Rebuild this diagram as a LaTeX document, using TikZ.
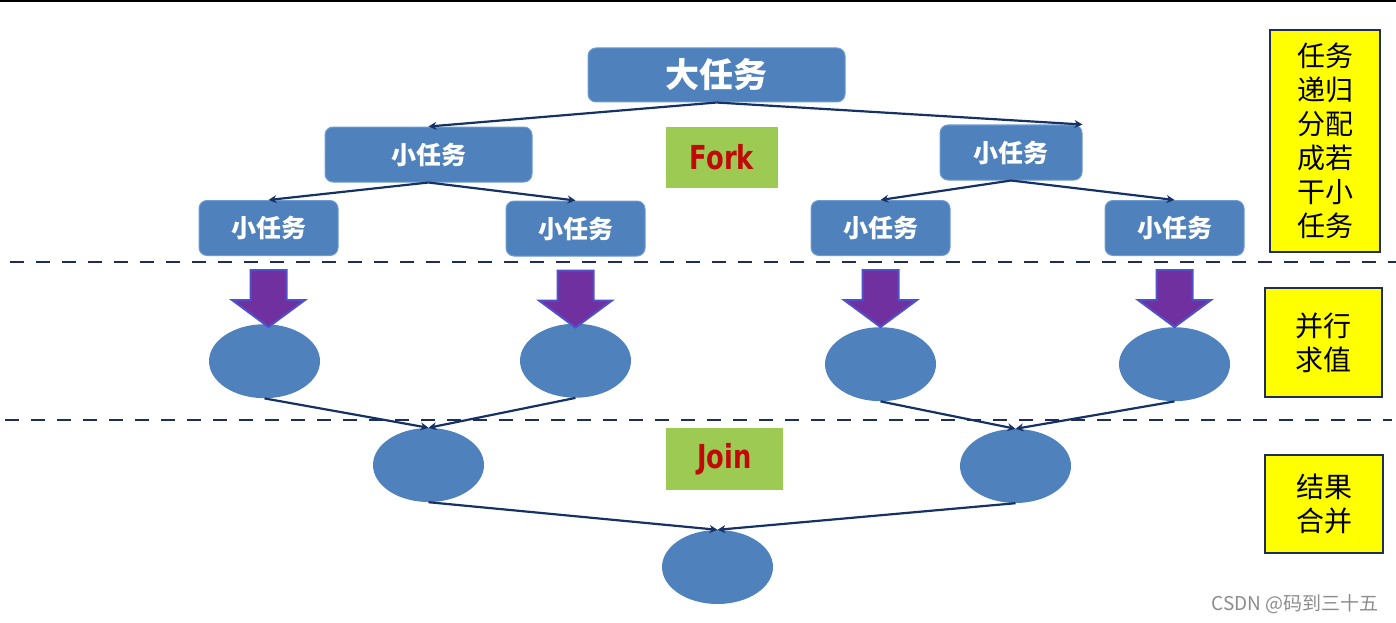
\documentclass[tikz,border=0pt]{standalone}
\usepackage{fontspec}
\newfontfamily\cjk{Noto Sans CJK SC}
\newfontfamily\tagfont{DejaVu Sans}[FakeStretch=0.78]
\usepackage{tikz}
\usetikzlibrary{arrows.meta,shapes.geometric,positioning}
\usepackage{xcolor}
\definecolor{tkblue}{RGB}{79,129,189}
\definecolor{tkedge}{RGB}{110,155,210}
\definecolor{tkline}{RGB}{22,50,100}
\definecolor{tkpurple}{RGB}{112,48,160}
\definecolor{tkviolet}{RGB}{80,80,200}
\definecolor{tkyellow}{RGB}{255,255,0}
\definecolor{tknavy}{RGB}{30,45,90}
\definecolor{tkgreen}{RGB}{157,202,82}
\definecolor{tkred}{RGB}{192,10,10}
\tikzstyle{task} = [rectangle, rounded corners=8pt, minimum width=139pt, minimum height=55pt, text centered, draw=tkedge, fill=tkblue, line width=1pt, text=white, font=\cjk\bfseries\fontsize{25}{25}\selectfont]
\tikzstyle{result} = [ellipse, minimum width=111pt, minimum height=74pt, inner sep=0pt, fill=tkblue]
\tikzstyle{link} = [line width=2.2pt, -{Stealth[length=8pt,width=8pt]}, color=tkline]
\tikzstyle{phase} = [rectangle, draw=tknavy, fill=tkyellow, line width=2pt, align=center, text=black, font=\cjk\fontsize{28}{34}\selectfont]
\tikzstyle{tag} = [rectangle, fill=tkgreen, text=tkred, font=\tagfont\bfseries\fontsize{33}{33}\selectfont]
\tikzstyle{divider} = [line width=2pt, dash pattern=on 14pt off 12pt, color=tknavy]
\tikzstyle{droparrow} = [fill=tkpurple, draw=tkviolet, line width=2pt, line join=miter]
\tikzset{drop/.pic={
  \draw[droparrow] (-18,0) -- (18,0) -- (18,30) -- (36.5,30) -- (0,57) -- (-36.5,30) -- (-18,30) -- cycle;
}}

\begin{document}
\begin{tikzpicture}[x=1pt, y=-1pt]
\useasboundingbox (0,0) rectangle (1396,623);
\draw[line width=2pt] (0,1) -- (1396,1);

% Fork: split the task
\node[task, minimum width=257pt, minimum height=54pt, font=\cjk\bfseries\fontsize{34}{34}\selectfont] (big) at (716.5,75) {大任务};
\node[task, minimum width=207pt] (l1) at (428.5,154.5) {小任务};
\node[task, minimum width=142pt] (r1) at (1011,152.5) {小任务};
\node[task] (ll) at (268.5,228) {小任务};
\node[task] (lr) at (575.5,228.5) {小任务};
\node[task] (rl) at (880.5,228) {小任务};
\node[task] (rr) at (1174.5,228) {小任务};
\node[tag, minimum width=112pt, minimum height=61pt] (fork) at (722,157.5) {Fork};

\draw[link] (big.south) -- (l1.north);
\draw[link] (big.south) -- (r1.north east);
\draw[link] (l1.south) -- (ll.north);
\draw[link] (l1.south) -- (lr.north);
\draw[link] (r1.south) -- (rl.north);
\draw[link] (r1.south) -- (rr.north);

% Phase borders
\draw[divider] (10,262) -- (1396,262);
\draw[divider] (5,420) -- (1392,420);

% Parallel evaluation
\node[result, below=68pt of ll, xshift=-4pt] (e1) {};
\node[result, below=67pt of lr] (e2) {};
\node[result, below=71pt of rl] (e3) {};
\node[result, below=71pt of rr] (e4) {};
\foreach \t in {ll,lr,rl,rr}
  \pic at ([yshift=-14pt]\t.south) {drop};

% Join: merge the results
\node[result] (j1) at (428.5,465) {};
\node[result] (j2) at (1015.5,466) {};
\node[result] (res) at (717.5,567) {};
\node[tag, minimum width=117pt, minimum height=62pt] (join) at (724.5,459) {Join};

\draw[link] (e1.south) -- (j1.north);
\draw[link] (e2.south) -- (j1.north);
\draw[link] (e3.south) -- (j2.north);
\draw[link] (e4.south) -- (j2.north);
\draw[link] (j1.south) -- (res.north);
\draw[link] (j2.south) -- (res.north);

% Phase notes
\node[phase, minimum width=110pt, minimum height=222pt] (split) at (1325,141) {任务\\递归\\分配\\成若\\干小\\任务};
\node[phase, minimum width=117pt, minimum height=109pt] (eval) at (1323.5,342.5) {并行\\求值};
\node[phase, minimum width=118pt, minimum height=98pt] (merge) at (1324,504) {结果\\合并};

\node[text=black!45, font=\cjk\fontsize{19}{19}\selectfont, anchor=east] (csdn) at (1382,604) {CSDN @码到三十五};
\end{tikzpicture}
\end{document}
